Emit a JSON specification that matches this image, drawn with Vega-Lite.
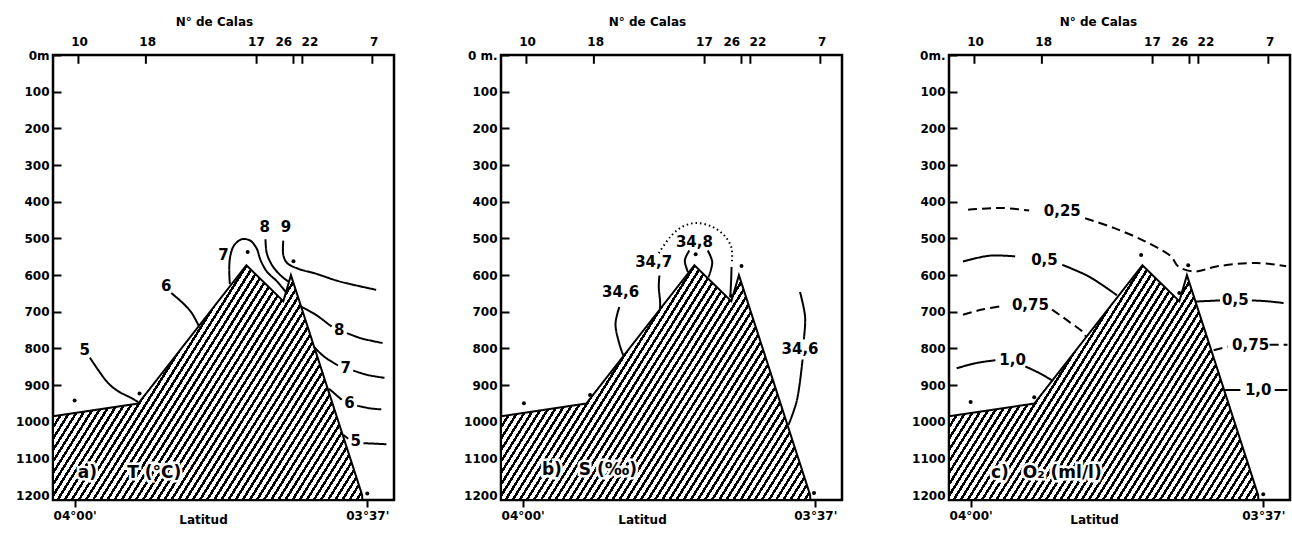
{
  "$schema": "https://vega.github.io/schema/vega-lite/v6.json",
  "padding": {"left": 14, "top": 13, "right": 0, "bottom": 0},
  "background": "white",
  "spacing": 66,
  "datasets": {
    "bathy": [
      {"lat": 241.7, "depth": 985},
      {"lat": 235.0, "depth": 950},
      {"lat": 226.5, "depth": 573},
      {"lat": 223.6, "depth": 671},
      {"lat": 223.0, "depth": 600},
      {"lat": 217.4, "depth": 1200}
    ],
    "stations": [
      {"lat": 239.7, "cala": "10"},
      {"lat": 234.4, "cala": "18"},
      {"lat": 225.7, "cala": "17"},
      {"lat": 222.8, "cala": "26"},
      {"lat": 222.1, "cala": "22"},
      {"lat": 216.6, "cala": "7"}
    ],
    "casts": [
      {"panel": "T", "lat": 240.0, "depth": 942},
      {"panel": "T", "lat": 234.9, "depth": 923},
      {"panel": "T", "lat": 226.4, "depth": 537},
      {"panel": "T", "lat": 222.8, "depth": 562},
      {"panel": "T", "lat": 217.0, "depth": 1195},
      {"panel": "S", "lat": 239.9, "depth": 949},
      {"panel": "S", "lat": 234.7, "depth": 927},
      {"panel": "S", "lat": 226.4, "depth": 543},
      {"panel": "S", "lat": 222.8, "depth": 575},
      {"panel": "S", "lat": 223.6, "depth": 657},
      {"panel": "S", "lat": 217.1, "depth": 1194},
      {"panel": "O", "lat": 240.0, "depth": 946},
      {"panel": "O", "lat": 235.0, "depth": 933},
      {"panel": "O", "lat": 226.6, "depth": 545},
      {"panel": "O", "lat": 222.9, "depth": 573},
      {"panel": "O", "lat": 223.6, "depth": 649},
      {"panel": "O", "lat": 217.0, "depth": 1197}
    ],
    "lines": [
      {"panel": "T", "seg": "T5a", "ord": 1, "lat": 238.8, "depth": 825, "style": "solid"},
      {"panel": "T", "seg": "T5a", "ord": 2, "lat": 237.4, "depth": 893, "style": "solid"},
      {"panel": "T", "seg": "T5a", "ord": 3, "lat": 236.6, "depth": 916, "style": "solid"},
      {"panel": "T", "seg": "T5a", "ord": 4, "lat": 235.6, "depth": 934, "style": "solid"},
      {"panel": "T", "seg": "T5a", "ord": 5, "lat": 235.0, "depth": 946, "style": "solid"},
      {"panel": "T", "seg": "T6a", "ord": 1, "lat": 232.4, "depth": 649, "style": "solid"},
      {"panel": "T", "seg": "T6a", "ord": 2, "lat": 231.5, "depth": 676, "style": "solid"},
      {"panel": "T", "seg": "T6a", "ord": 3, "lat": 230.8, "depth": 703, "style": "solid"},
      {"panel": "T", "seg": "T6a", "ord": 4, "lat": 230.25, "depth": 738, "style": "solid"},
      {"panel": "T", "seg": "T7a", "ord": 1, "lat": 227.8, "depth": 625, "style": "solid"},
      {"panel": "T", "seg": "T7a", "ord": 2, "lat": 227.85, "depth": 580, "style": "solid"},
      {"panel": "T", "seg": "T7a", "ord": 3, "lat": 227.75, "depth": 545, "style": "solid"},
      {"panel": "T", "seg": "T7a", "ord": 4, "lat": 227.45, "depth": 518, "style": "solid"},
      {"panel": "T", "seg": "T7a", "ord": 5, "lat": 226.85, "depth": 502, "style": "solid"},
      {"panel": "T", "seg": "T7a", "ord": 6, "lat": 226.2, "depth": 506, "style": "solid"},
      {"panel": "T", "seg": "T7a", "ord": 7, "lat": 225.7, "depth": 527, "style": "solid"},
      {"panel": "T", "seg": "T7a", "ord": 8, "lat": 225.4, "depth": 558, "style": "solid"},
      {"panel": "T", "seg": "T7a", "ord": 9, "lat": 224.9, "depth": 590, "style": "solid"},
      {"panel": "T", "seg": "T7a", "ord": 10, "lat": 224.1, "depth": 617, "style": "solid"},
      {"panel": "T", "seg": "T7a", "ord": 11, "lat": 223.4, "depth": 646, "style": "solid"},
      {"panel": "T", "seg": "T8a", "ord": 1, "lat": 225.0, "depth": 502, "style": "solid"},
      {"panel": "T", "seg": "T8a", "ord": 2, "lat": 224.9, "depth": 540, "style": "solid"},
      {"panel": "T", "seg": "T8a", "ord": 3, "lat": 224.5, "depth": 572, "style": "solid"},
      {"panel": "T", "seg": "T8a", "ord": 4, "lat": 223.95, "depth": 596, "style": "solid"},
      {"panel": "T", "seg": "T8a", "ord": 5, "lat": 223.5, "depth": 610, "style": "solid"},
      {"panel": "T", "seg": "T8a", "ord": 6, "lat": 223.15, "depth": 618, "style": "solid"},
      {"panel": "T", "seg": "T9a", "ord": 1, "lat": 223.6, "depth": 506, "style": "solid"},
      {"panel": "T", "seg": "T9a", "ord": 2, "lat": 223.6, "depth": 545, "style": "solid"},
      {"panel": "T", "seg": "T9a", "ord": 3, "lat": 223.3, "depth": 567, "style": "solid"},
      {"panel": "T", "seg": "T9a", "ord": 4, "lat": 222.4, "depth": 583, "style": "solid"},
      {"panel": "T", "seg": "T9a", "ord": 5, "lat": 221.05, "depth": 596, "style": "solid"},
      {"panel": "T", "seg": "T9a", "ord": 6, "lat": 219.2, "depth": 617, "style": "solid"},
      {"panel": "T", "seg": "T9a", "ord": 7, "lat": 216.3, "depth": 640, "style": "solid"},
      {"panel": "T", "seg": "T8b", "ord": 1, "lat": 222.2, "depth": 686, "style": "solid"},
      {"panel": "T", "seg": "T8b", "ord": 2, "lat": 221.05, "depth": 708, "style": "solid"},
      {"panel": "T", "seg": "T8b", "ord": 3, "lat": 220.0, "depth": 735, "style": "solid"},
      {"panel": "T", "seg": "T8b", "ord": 4, "lat": 219.8, "depth": 740, "style": "solid"},
      {"panel": "T", "seg": "T8c", "ord": 1, "lat": 218.6, "depth": 758, "style": "solid"},
      {"panel": "T", "seg": "T8c", "ord": 2, "lat": 217.5, "depth": 772, "style": "solid"},
      {"panel": "T", "seg": "T8c", "ord": 3, "lat": 215.8, "depth": 785, "style": "solid"},
      {"panel": "T", "seg": "T7b", "ord": 1, "lat": 221.2, "depth": 795, "style": "solid"},
      {"panel": "T", "seg": "T7b", "ord": 2, "lat": 220.4, "depth": 822, "style": "solid"},
      {"panel": "T", "seg": "T7b", "ord": 3, "lat": 219.3, "depth": 846, "style": "solid"},
      {"panel": "T", "seg": "T7c", "ord": 1, "lat": 218.1, "depth": 860, "style": "solid"},
      {"panel": "T", "seg": "T7c", "ord": 2, "lat": 217.0, "depth": 872, "style": "solid"},
      {"panel": "T", "seg": "T7c", "ord": 3, "lat": 215.65, "depth": 880, "style": "solid"},
      {"panel": "T", "seg": "T6b", "ord": 1, "lat": 220.0, "depth": 910, "style": "solid"},
      {"panel": "T", "seg": "T6b", "ord": 2, "lat": 219.0, "depth": 940, "style": "solid"},
      {"panel": "T", "seg": "T6c", "ord": 1, "lat": 217.8, "depth": 956, "style": "solid"},
      {"panel": "T", "seg": "T6c", "ord": 2, "lat": 216.8, "depth": 963, "style": "solid"},
      {"panel": "T", "seg": "T6c", "ord": 3, "lat": 215.9, "depth": 966, "style": "solid"},
      {"panel": "T", "seg": "T5b", "ord": 1, "lat": 218.9, "depth": 1035, "style": "solid"},
      {"panel": "T", "seg": "T5b", "ord": 2, "lat": 218.5, "depth": 1046, "style": "solid"},
      {"panel": "T", "seg": "T5c", "ord": 1, "lat": 217.3, "depth": 1058, "style": "solid"},
      {"panel": "T", "seg": "T5c", "ord": 2, "lat": 215.5, "depth": 1061, "style": "solid"},

      {"panel": "S", "seg": "S46a", "ord": 1, "lat": 232.4, "depth": 687, "style": "solid"},
      {"panel": "S", "seg": "S46a", "ord": 2, "lat": 232.7, "depth": 733, "style": "solid"},
      {"panel": "S", "seg": "S46a", "ord": 3, "lat": 232.4, "depth": 787, "style": "solid"},
      {"panel": "S", "seg": "S46a", "ord": 4, "lat": 232.05, "depth": 822, "style": "solid"},
      {"panel": "S", "seg": "S47a", "ord": 1, "lat": 229.25, "depth": 601, "style": "solid"},
      {"panel": "S", "seg": "S47a", "ord": 2, "lat": 229.3, "depth": 633, "style": "solid"},
      {"panel": "S", "seg": "S47a", "ord": 3, "lat": 229.2, "depth": 670, "style": "solid"},
      {"panel": "S", "seg": "S47a", "ord": 4, "lat": 229.2, "depth": 692, "style": "solid"},
      {"panel": "S", "seg": "S48a", "ord": 1, "lat": 226.9, "depth": 533, "style": "solid"},
      {"panel": "S", "seg": "S48a", "ord": 2, "lat": 227.25, "depth": 560, "style": "solid"},
      {"panel": "S", "seg": "S48a", "ord": 3, "lat": 227.0, "depth": 592, "style": "solid"},
      {"panel": "S", "seg": "S48b", "ord": 1, "lat": 225.45, "depth": 533, "style": "solid"},
      {"panel": "S", "seg": "S48b", "ord": 2, "lat": 225.1, "depth": 565, "style": "solid"},
      {"panel": "S", "seg": "S48b", "ord": 3, "lat": 225.4, "depth": 606, "style": "solid"},
      {"panel": "S", "seg": "S48c", "ord": 1, "lat": 229.3, "depth": 540, "style": "dotted"},
      {"panel": "S", "seg": "S48c", "ord": 2, "lat": 228.4, "depth": 496, "style": "dotted"},
      {"panel": "S", "seg": "S48c", "ord": 3, "lat": 227.5, "depth": 469, "style": "dotted"},
      {"panel": "S", "seg": "S48c", "ord": 4, "lat": 226.35, "depth": 458, "style": "dotted"},
      {"panel": "S", "seg": "S48c", "ord": 5, "lat": 225.05, "depth": 469, "style": "dotted"},
      {"panel": "S", "seg": "S48c", "ord": 6, "lat": 224.15, "depth": 492, "style": "dotted"},
      {"panel": "S", "seg": "S48c", "ord": 7, "lat": 223.6, "depth": 524, "style": "dotted"},
      {"panel": "S", "seg": "S48c", "ord": 8, "lat": 223.55, "depth": 565, "style": "dotted"},
      {"panel": "S", "seg": "S47b", "ord": 1, "lat": 223.58, "depth": 578, "style": "solid"},
      {"panel": "S", "seg": "S47b", "ord": 2, "lat": 223.62, "depth": 620, "style": "solid"},
      {"panel": "S", "seg": "S47b", "ord": 3, "lat": 223.68, "depth": 660, "style": "solid"},
      {"panel": "S", "seg": "S46b", "ord": 1, "lat": 218.2, "depth": 646, "style": "solid"},
      {"panel": "S", "seg": "S46b", "ord": 2, "lat": 217.8, "depth": 714, "style": "solid"},
      {"panel": "S", "seg": "S46b", "ord": 3, "lat": 217.9, "depth": 775, "style": "solid"},
      {"panel": "S", "seg": "S46c", "ord": 1, "lat": 218.0, "depth": 830, "style": "solid"},
      {"panel": "S", "seg": "S46c", "ord": 2, "lat": 218.45, "depth": 942, "style": "solid"},
      {"panel": "S", "seg": "S46c", "ord": 3, "lat": 219.1, "depth": 1008, "style": "solid"},

      {"panel": "O", "seg": "O25a", "ord": 1, "lat": 240.2, "depth": 422, "style": "dashed"},
      {"panel": "O", "seg": "O25a", "ord": 2, "lat": 237.5, "depth": 417, "style": "dashed"},
      {"panel": "O", "seg": "O25a", "ord": 3, "lat": 235.4, "depth": 424, "style": "dashed"},
      {"panel": "O", "seg": "O25b", "ord": 1, "lat": 231.0, "depth": 445, "style": "dashed"},
      {"panel": "O", "seg": "O25b", "ord": 2, "lat": 228.7, "depth": 472, "style": "dashed"},
      {"panel": "O", "seg": "O25b", "ord": 3, "lat": 226.3, "depth": 508, "style": "dashed"},
      {"panel": "O", "seg": "O25b", "ord": 4, "lat": 224.25, "depth": 549, "style": "dashed"},
      {"panel": "O", "seg": "O25b", "ord": 5, "lat": 223.7, "depth": 576, "style": "dashed"},
      {"panel": "O", "seg": "O25b", "ord": 6, "lat": 222.4, "depth": 590, "style": "dashed"},
      {"panel": "O", "seg": "O25b", "ord": 7, "lat": 220.6, "depth": 576, "style": "dashed"},
      {"panel": "O", "seg": "O25b", "ord": 8, "lat": 217.5, "depth": 567, "style": "dashed"},
      {"panel": "O", "seg": "O25b", "ord": 9, "lat": 215.2, "depth": 576, "style": "dashed"},
      {"panel": "O", "seg": "O5a", "ord": 1, "lat": 240.6, "depth": 563, "style": "solid"},
      {"panel": "O", "seg": "O5a", "ord": 2, "lat": 238.5, "depth": 547, "style": "solid"},
      {"panel": "O", "seg": "O5a", "ord": 3, "lat": 236.5, "depth": 549, "style": "solid"},
      {"panel": "O", "seg": "O5b", "ord": 1, "lat": 232.8, "depth": 572, "style": "solid"},
      {"panel": "O", "seg": "O5b", "ord": 2, "lat": 230.7, "depth": 604, "style": "solid"},
      {"panel": "O", "seg": "O5b", "ord": 3, "lat": 228.5, "depth": 655, "style": "solid"},
      {"panel": "O", "seg": "O5c", "ord": 1, "lat": 222.3, "depth": 672, "style": "solid"},
      {"panel": "O", "seg": "O5c", "ord": 2, "lat": 220.4, "depth": 669, "style": "solid"},
      {"panel": "O", "seg": "O5d", "ord": 1, "lat": 217.9, "depth": 669, "style": "solid"},
      {"panel": "O", "seg": "O5d", "ord": 2, "lat": 216.8, "depth": 671, "style": "solid"},
      {"panel": "O", "seg": "O5d", "ord": 3, "lat": 215.4, "depth": 676, "style": "solid"},
      {"panel": "O", "seg": "O75a", "ord": 1, "lat": 240.6, "depth": 708, "style": "dashed"},
      {"panel": "O", "seg": "O75a", "ord": 2, "lat": 239.1, "depth": 694, "style": "dashed"},
      {"panel": "O", "seg": "O75a", "ord": 3, "lat": 237.5, "depth": 684, "style": "dashed"},
      {"panel": "O", "seg": "O75b", "ord": 1, "lat": 233.6, "depth": 694, "style": "dashed"},
      {"panel": "O", "seg": "O75b", "ord": 2, "lat": 232.3, "depth": 726, "style": "dashed"},
      {"panel": "O", "seg": "O75b", "ord": 3, "lat": 231.1, "depth": 758, "style": "dashed"},
      {"panel": "O", "seg": "O75b", "ord": 4, "lat": 230.95, "depth": 768, "style": "dashed"},
      {"panel": "O", "seg": "O75c", "ord": 1, "lat": 220.9, "depth": 805, "style": "dashed"},
      {"panel": "O", "seg": "O75c", "ord": 2, "lat": 219.8, "depth": 795, "style": "dashed"},
      {"panel": "O", "seg": "O75d", "ord": 1, "lat": 216.5, "depth": 790, "style": "dashed"},
      {"panel": "O", "seg": "O75d", "ord": 2, "lat": 215.1, "depth": 790, "style": "dashed"},
      {"panel": "O", "seg": "O10a", "ord": 1, "lat": 241.1, "depth": 854, "style": "solid"},
      {"panel": "O", "seg": "O10a", "ord": 2, "lat": 239.6, "depth": 840, "style": "solid"},
      {"panel": "O", "seg": "O10a", "ord": 3, "lat": 238.05, "depth": 832, "style": "solid"},
      {"panel": "O", "seg": "O10b", "ord": 1, "lat": 235.7, "depth": 849, "style": "solid"},
      {"panel": "O", "seg": "O10b", "ord": 2, "lat": 234.6, "depth": 867, "style": "solid"},
      {"panel": "O", "seg": "O10b", "ord": 3, "lat": 233.6, "depth": 887, "style": "solid"},
      {"panel": "O", "seg": "O10c", "ord": 1, "lat": 220.0, "depth": 913, "style": "solid"},
      {"panel": "O", "seg": "O10c", "ord": 2, "lat": 218.8, "depth": 913, "style": "solid"},
      {"panel": "O", "seg": "O10d", "ord": 1, "lat": 216.1, "depth": 913, "style": "solid"},
      {"panel": "O", "seg": "O10d", "ord": 2, "lat": 215.1, "depth": 913, "style": "solid"}
    ],
    "labels": [
      {"panel": "T", "lat": 239.2, "depth": 804, "txt": "5"},
      {"panel": "T", "lat": 232.8, "depth": 630, "txt": "6"},
      {"panel": "T", "lat": 228.3, "depth": 545, "txt": "7"},
      {"panel": "T", "lat": 225.06, "depth": 470, "txt": "8"},
      {"panel": "T", "lat": 223.4, "depth": 470, "txt": "9"},
      {"panel": "T", "lat": 219.2, "depth": 749, "txt": "8"},
      {"panel": "T", "lat": 218.7, "depth": 853, "txt": "7"},
      {"panel": "T", "lat": 218.4, "depth": 948, "txt": "6"},
      {"panel": "T", "lat": 217.9, "depth": 1052, "txt": "5"},
      {"panel": "S", "lat": 232.3, "depth": 646, "txt": "34,6"},
      {"panel": "S", "lat": 229.7, "depth": 565, "txt": "34,7"},
      {"panel": "S", "lat": 226.5, "depth": 510, "txt": "34,8"},
      {"panel": "S", "lat": 218.2, "depth": 801, "txt": "34,6"},
      {"panel": "O", "lat": 232.8, "depth": 426, "txt": "0,25"},
      {"panel": "O", "lat": 234.2, "depth": 560, "txt": "0,5"},
      {"panel": "O", "lat": 235.3, "depth": 681, "txt": "0,75"},
      {"panel": "O", "lat": 236.7, "depth": 831, "txt": "1,0"},
      {"panel": "O", "lat": 219.2, "depth": 669, "txt": "0,5"},
      {"panel": "O", "lat": 218.0, "depth": 790, "txt": "0,75"},
      {"panel": "O", "lat": 217.4, "depth": 913, "txt": "1,0"}
    ],
    "tags": [
      {"panel": "T", "lat": 239.0, "depth": 1140, "txt": "a)"},
      {"panel": "T", "lat": 233.75, "depth": 1140, "txt": "T (°C)"},
      {"panel": "S", "lat": 237.7, "depth": 1132, "txt": "b)"},
      {"panel": "S", "lat": 233.3, "depth": 1132, "txt": "S (‰)"},
      {"panel": "O", "lat": 237.7, "depth": 1140, "txt": "c)"},
      {"panel": "O", "lat": 232.8, "depth": 1140, "txt": "O₂ (ml/l)"}
    ]
  },
  "hconcat": [
    {
      "width": 341,
      "height": 445,
      "resolve": {"axis": {"x": "independent", "y": "independent"}},
      "layer": [
        {
          "data": {"name": "bathy"},
          "mark": {"type": "area", "stroke": "#000", "strokeWidth": 2, "opacity": 1, "fillOpacity": 1},
          "encoding": {
            "x": {"field": "lat", "type": "quantitative",
              "scale": {"domain": [214.9, 241.7], "reverse": true, "nice": false, "zero": false},
              "axis": {"orient": "bottom", "values": [240, 217], "labelExpr": "datum.value == 240 ? \"04°00'\" : \"03°37'\"", "title": "Latitud", "titleX": 150, "titleY": 19, "titleBaseline": "middle", "titleAlign": "center", "tickSize": 7, "labelPadding": 3, "labelFlush": false}},
            "y": {"field": "depth", "type": "quantitative",
              "scale": {"domain": [0, 1213], "reverse": true, "nice": false, "zero": false},
              "axis": {"orient": "left", "values": [0, 100, 200, 300, 400, 500, 600, 700, 800, 900, 1000, 1100, 1200], "format": "d", "labelExpr": "datum.value == 0 ? '0m' : datum.label", "title": null, "offset": -8, "tickSize": 8, "labelPadding": 4}},
            "y2": {"datum": 1213}
          }
        },
        {
          "data": {"name": "lines"},
          "transform": [{"filter": "datum.panel == 'T'"}],
          "mark": {"type": "line", "interpolate": "catmull-rom", "stroke": "#000", "strokeWidth": 2},
          "encoding": {
            "x": {"field": "lat", "type": "quantitative", "axis": null},
            "y": {"field": "depth", "type": "quantitative", "axis": null},
            "detail": {"field": "seg"},
            "order": {"field": "ord"},
            "strokeDash": {"field": "style", "scale": {"domain": ["solid", "dashed", "dotted"], "range": [[1, 0], [9, 5], [1.5, 3]]}, "legend": null}
          }
        },
        {
          "data": {"name": "casts"},
          "transform": [{"filter": "datum.panel == 'T'"}],
          "mark": {"type": "circle", "size": 16, "color": "#000", "opacity": 1},
          "encoding": {
            "x": {"field": "lat", "type": "quantitative", "axis": null},
            "y": {"field": "depth", "type": "quantitative", "axis": null}
          }
        },
        {
          "data": {"name": "stations"},
          "mark": {"type": "rule", "stroke": "#000", "strokeWidth": 2},
          "encoding": {
            "x": {"field": "lat", "type": "quantitative",
              "axis": {"orient": "top", "values": [239.65, 234.3, 225.75, 223.6, 221.55, 216.5], "labelExpr": "datum.value == 239.65 ? '10' : datum.value == 234.3 ? '18' : datum.value == 225.75 ? '17' : datum.value == 223.6 ? '26' : datum.value == 221.55 ? '22' : '7'", "ticks": false, "labelPadding": 7, "labelOverlap": false, "labelFlush": false, "title": "N° de Calas", "titleX": 161, "titleY": -34, "titleBaseline": "middle", "titleAlign": "center"}},
            "y": {"datum": 0, "type": "quantitative", "axis": null},
            "y2": {"datum": 24}
          }
        },
        {
          "data": {"name": "labels"},
          "transform": [{"filter": "datum.panel == 'T'"}],
          "mark": {"type": "text", "fontSize": 15},
          "encoding": {
            "x": {"field": "lat", "type": "quantitative", "axis": null},
            "y": {"field": "depth", "type": "quantitative", "axis": null},
            "text": {"field": "txt"}
          }
        },
        {
          "data": {"name": "tags"},
          "transform": [{"filter": "datum.panel == 'T'"}],
          "mark": {"type": "text", "fontSize": 17, "stroke": "#fff", "strokeWidth": 5, "fill": "#fff"},
          "encoding": {
            "x": {"field": "lat", "type": "quantitative", "axis": null},
            "y": {"field": "depth", "type": "quantitative", "axis": null},
            "text": {"field": "txt"}
          }
        },
        {
          "data": {"name": "tags"},
          "transform": [{"filter": "datum.panel == 'T'"}],
          "mark": {"type": "text", "fontSize": 17},
          "encoding": {
            "x": {"field": "lat", "type": "quantitative", "axis": null},
            "y": {"field": "depth", "type": "quantitative", "axis": null},
            "text": {"field": "txt"}
          }
        }
      ]
    },
    {
      "width": 341,
      "height": 445,
      "resolve": {"axis": {"x": "independent", "y": "independent"}},
      "layer": [
        {
          "data": {"name": "bathy"},
          "mark": {"type": "area", "stroke": "#000", "strokeWidth": 2, "opacity": 1, "fillOpacity": 1},
          "encoding": {
            "x": {"field": "lat", "type": "quantitative",
              "scale": {"domain": [214.9, 241.7], "reverse": true, "nice": false, "zero": false},
              "axis": {"orient": "bottom", "values": [240, 217], "labelExpr": "datum.value == 240 ? \"04°00'\" : \"03°37'\"", "title": "Latitud", "titleX": 141, "titleY": 19, "titleBaseline": "middle", "titleAlign": "center", "tickSize": 7, "labelPadding": 3, "labelFlush": false}},
            "y": {"field": "depth", "type": "quantitative",
              "scale": {"domain": [0, 1213], "reverse": true, "nice": false, "zero": false},
              "axis": {"orient": "left", "values": [0, 100, 200, 300, 400, 500, 600, 700, 800, 900, 1000, 1100, 1200], "format": "d", "labelExpr": "datum.value == 0 ? '0 m.' : datum.label", "title": null, "offset": -8, "tickSize": 8, "labelPadding": 4}},
            "y2": {"datum": 1213}
          }
        },
        {
          "data": {"name": "lines"},
          "transform": [{"filter": "datum.panel == 'S'"}],
          "mark": {"type": "line", "interpolate": "catmull-rom", "stroke": "#000", "strokeWidth": 2},
          "encoding": {
            "x": {"field": "lat", "type": "quantitative", "axis": null},
            "y": {"field": "depth", "type": "quantitative", "axis": null},
            "detail": {"field": "seg"},
            "order": {"field": "ord"},
            "strokeDash": {"field": "style", "scale": {"domain": ["solid", "dashed", "dotted"], "range": [[1, 0], [9, 5], [1.5, 3]]}, "legend": null}
          }
        },
        {
          "data": {"name": "casts"},
          "transform": [{"filter": "datum.panel == 'S'"}],
          "mark": {"type": "circle", "size": 16, "color": "#000", "opacity": 1},
          "encoding": {
            "x": {"field": "lat", "type": "quantitative", "axis": null},
            "y": {"field": "depth", "type": "quantitative", "axis": null}
          }
        },
        {
          "data": {"name": "stations"},
          "mark": {"type": "rule", "stroke": "#000", "strokeWidth": 2},
          "encoding": {
            "x": {"field": "lat", "type": "quantitative",
              "axis": {"orient": "top", "values": [239.65, 234.3, 225.75, 223.6, 221.55, 216.5], "labelExpr": "datum.value == 239.65 ? '10' : datum.value == 234.3 ? '18' : datum.value == 225.75 ? '17' : datum.value == 223.6 ? '26' : datum.value == 221.55 ? '22' : '7'", "ticks": false, "labelPadding": 7, "labelOverlap": false, "labelFlush": false, "title": "N° de Calas", "titleX": 146, "titleY": -34, "titleBaseline": "middle", "titleAlign": "center"}},
            "y": {"datum": 0, "type": "quantitative", "axis": null},
            "y2": {"datum": 24}
          }
        },
        {
          "data": {"name": "labels"},
          "transform": [{"filter": "datum.panel == 'S'"}],
          "mark": {"type": "text", "fontSize": 15},
          "encoding": {
            "x": {"field": "lat", "type": "quantitative", "axis": null},
            "y": {"field": "depth", "type": "quantitative", "axis": null},
            "text": {"field": "txt"}
          }
        },
        {
          "data": {"name": "tags"},
          "transform": [{"filter": "datum.panel == 'S'"}],
          "mark": {"type": "text", "fontSize": 17, "stroke": "#fff", "strokeWidth": 5, "fill": "#fff"},
          "encoding": {
            "x": {"field": "lat", "type": "quantitative", "axis": null},
            "y": {"field": "depth", "type": "quantitative", "axis": null},
            "text": {"field": "txt"}
          }
        },
        {
          "data": {"name": "tags"},
          "transform": [{"filter": "datum.panel == 'S'"}],
          "mark": {"type": "text", "fontSize": 17},
          "encoding": {
            "x": {"field": "lat", "type": "quantitative", "axis": null},
            "y": {"field": "depth", "type": "quantitative", "axis": null},
            "text": {"field": "txt"}
          }
        }
      ]
    },
    {
      "width": 341,
      "height": 445,
      "resolve": {"axis": {"x": "independent", "y": "independent"}},
      "layer": [
        {
          "data": {"name": "bathy"},
          "mark": {"type": "area", "stroke": "#000", "strokeWidth": 2, "opacity": 1, "fillOpacity": 1},
          "encoding": {
            "x": {"field": "lat", "type": "quantitative",
              "scale": {"domain": [214.9, 241.7], "reverse": true, "nice": false, "zero": false},
              "axis": {"orient": "bottom", "values": [240, 217], "labelExpr": "datum.value == 240 ? \"04°00'\" : \"03°37'\"", "title": "Latitud", "titleX": 145, "titleY": 19, "titleBaseline": "middle", "titleAlign": "center", "tickSize": 7, "labelPadding": 3, "labelFlush": false}},
            "y": {"field": "depth", "type": "quantitative",
              "scale": {"domain": [0, 1213], "reverse": true, "nice": false, "zero": false},
              "axis": {"orient": "left", "values": [0, 100, 200, 300, 400, 500, 600, 700, 800, 900, 1000, 1100, 1200], "format": "d", "labelExpr": "datum.value == 0 ? '0m.' : datum.label", "title": null, "offset": -8, "tickSize": 8, "labelPadding": 4}},
            "y2": {"datum": 1213}
          }
        },
        {
          "data": {"name": "lines"},
          "transform": [{"filter": "datum.panel == 'O'"}],
          "mark": {"type": "line", "interpolate": "catmull-rom", "stroke": "#000", "strokeWidth": 2},
          "encoding": {
            "x": {"field": "lat", "type": "quantitative", "axis": null},
            "y": {"field": "depth", "type": "quantitative", "axis": null},
            "detail": {"field": "seg"},
            "order": {"field": "ord"},
            "strokeDash": {"field": "style", "scale": {"domain": ["solid", "dashed", "dotted"], "range": [[1, 0], [9, 5], [1.5, 3]]}, "legend": null}
          }
        },
        {
          "data": {"name": "casts"},
          "transform": [{"filter": "datum.panel == 'O'"}],
          "mark": {"type": "circle", "size": 16, "color": "#000", "opacity": 1},
          "encoding": {
            "x": {"field": "lat", "type": "quantitative", "axis": null},
            "y": {"field": "depth", "type": "quantitative", "axis": null}
          }
        },
        {
          "data": {"name": "stations"},
          "mark": {"type": "rule", "stroke": "#000", "strokeWidth": 2},
          "encoding": {
            "x": {"field": "lat", "type": "quantitative",
              "axis": {"orient": "top", "values": [239.65, 234.3, 225.75, 223.6, 221.55, 216.5], "labelExpr": "datum.value == 239.65 ? '10' : datum.value == 234.3 ? '18' : datum.value == 225.75 ? '17' : datum.value == 223.6 ? '26' : datum.value == 221.55 ? '22' : '7'", "ticks": false, "labelPadding": 7, "labelOverlap": false, "labelFlush": false, "title": "N° de Calas", "titleX": 149, "titleY": -34, "titleBaseline": "middle", "titleAlign": "center"}},
            "y": {"datum": 0, "type": "quantitative", "axis": null},
            "y2": {"datum": 24}
          }
        },
        {
          "data": {"name": "labels"},
          "transform": [{"filter": "datum.panel == 'O'"}],
          "mark": {"type": "text", "fontSize": 15},
          "encoding": {
            "x": {"field": "lat", "type": "quantitative", "axis": null},
            "y": {"field": "depth", "type": "quantitative", "axis": null},
            "text": {"field": "txt"}
          }
        },
        {
          "data": {"name": "tags"},
          "transform": [{"filter": "datum.panel == 'O'"}],
          "mark": {"type": "text", "fontSize": 17, "stroke": "#fff", "strokeWidth": 5, "fill": "#fff"},
          "encoding": {
            "x": {"field": "lat", "type": "quantitative", "axis": null},
            "y": {"field": "depth", "type": "quantitative", "axis": null},
            "text": {"field": "txt"}
          }
        },
        {
          "data": {"name": "tags"},
          "transform": [{"filter": "datum.panel == 'O'"}],
          "mark": {"type": "text", "fontSize": 17},
          "encoding": {
            "x": {"field": "lat", "type": "quantitative", "axis": null},
            "y": {"field": "depth", "type": "quantitative", "axis": null},
            "text": {"field": "txt"}
          }
        }
      ]
    }
  ],
  "config": {
    "view": {"stroke": "#000", "strokeWidth": 2.5},
    "axis": {
      "labelFont": "DejaVu Sans", "labelFontWeight": "bold", "labelFontSize": 12, "labelColor": "#000",
      "titleFont": "DejaVu Sans", "titleFontWeight": "bold", "titleFontSize": 12, "titleColor": "#000",
      "tickColor": "#000", "tickWidth": 2, "domain": false, "grid": false
    },
    "text": {"font": "DejaVu Sans", "fontWeight": "bold", "color": "#000"},
    "area": {
      "fill": {
        "gradient": "linear", "x1": 0, "y1": 0, "x2": 1.2036, "y2": 0.5705,
        "stops": [
          {"offset": 0, "color": "#000"}, {"offset": 0.0065, "color": "#000"}, {"offset": 0.0065, "color": "#fff"}, {"offset": 0.015625, "color": "#fff"},
          {"offset": 0.015625, "color": "#000"}, {"offset": 0.022125, "color": "#000"}, {"offset": 0.022125, "color": "#fff"}, {"offset": 0.03125, "color": "#fff"},
          {"offset": 0.03125, "color": "#000"}, {"offset": 0.03775, "color": "#000"}, {"offset": 0.03775, "color": "#fff"}, {"offset": 0.046875, "color": "#fff"},
          {"offset": 0.046875, "color": "#000"}, {"offset": 0.053375, "color": "#000"}, {"offset": 0.053375, "color": "#fff"}, {"offset": 0.0625, "color": "#fff"},
          {"offset": 0.0625, "color": "#000"}, {"offset": 0.069, "color": "#000"}, {"offset": 0.069, "color": "#fff"}, {"offset": 0.078125, "color": "#fff"},
          {"offset": 0.078125, "color": "#000"}, {"offset": 0.084625, "color": "#000"}, {"offset": 0.084625, "color": "#fff"}, {"offset": 0.09375, "color": "#fff"},
          {"offset": 0.09375, "color": "#000"}, {"offset": 0.10025, "color": "#000"}, {"offset": 0.10025, "color": "#fff"}, {"offset": 0.109375, "color": "#fff"},
          {"offset": 0.109375, "color": "#000"}, {"offset": 0.115875, "color": "#000"}, {"offset": 0.115875, "color": "#fff"}, {"offset": 0.125, "color": "#fff"},
          {"offset": 0.125, "color": "#000"}, {"offset": 0.1315, "color": "#000"}, {"offset": 0.1315, "color": "#fff"}, {"offset": 0.140625, "color": "#fff"},
          {"offset": 0.140625, "color": "#000"}, {"offset": 0.147125, "color": "#000"}, {"offset": 0.147125, "color": "#fff"}, {"offset": 0.15625, "color": "#fff"},
          {"offset": 0.15625, "color": "#000"}, {"offset": 0.16275, "color": "#000"}, {"offset": 0.16275, "color": "#fff"}, {"offset": 0.171875, "color": "#fff"},
          {"offset": 0.171875, "color": "#000"}, {"offset": 0.178375, "color": "#000"}, {"offset": 0.178375, "color": "#fff"}, {"offset": 0.1875, "color": "#fff"},
          {"offset": 0.1875, "color": "#000"}, {"offset": 0.194, "color": "#000"}, {"offset": 0.194, "color": "#fff"}, {"offset": 0.203125, "color": "#fff"},
          {"offset": 0.203125, "color": "#000"}, {"offset": 0.209625, "color": "#000"}, {"offset": 0.209625, "color": "#fff"}, {"offset": 0.21875, "color": "#fff"},
          {"offset": 0.21875, "color": "#000"}, {"offset": 0.22525, "color": "#000"}, {"offset": 0.22525, "color": "#fff"}, {"offset": 0.234375, "color": "#fff"},
          {"offset": 0.234375, "color": "#000"}, {"offset": 0.240875, "color": "#000"}, {"offset": 0.240875, "color": "#fff"}, {"offset": 0.25, "color": "#fff"},
          {"offset": 0.25, "color": "#000"}, {"offset": 0.2565, "color": "#000"}, {"offset": 0.2565, "color": "#fff"}, {"offset": 0.265625, "color": "#fff"},
          {"offset": 0.265625, "color": "#000"}, {"offset": 0.272125, "color": "#000"}, {"offset": 0.272125, "color": "#fff"}, {"offset": 0.28125, "color": "#fff"},
          {"offset": 0.28125, "color": "#000"}, {"offset": 0.28775, "color": "#000"}, {"offset": 0.28775, "color": "#fff"}, {"offset": 0.296875, "color": "#fff"},
          {"offset": 0.296875, "color": "#000"}, {"offset": 0.303375, "color": "#000"}, {"offset": 0.303375, "color": "#fff"}, {"offset": 0.3125, "color": "#fff"},
          {"offset": 0.3125, "color": "#000"}, {"offset": 0.319, "color": "#000"}, {"offset": 0.319, "color": "#fff"}, {"offset": 0.328125, "color": "#fff"},
          {"offset": 0.328125, "color": "#000"}, {"offset": 0.334625, "color": "#000"}, {"offset": 0.334625, "color": "#fff"}, {"offset": 0.34375, "color": "#fff"},
          {"offset": 0.34375, "color": "#000"}, {"offset": 0.35025, "color": "#000"}, {"offset": 0.35025, "color": "#fff"}, {"offset": 0.359375, "color": "#fff"},
          {"offset": 0.359375, "color": "#000"}, {"offset": 0.365875, "color": "#000"}, {"offset": 0.365875, "color": "#fff"}, {"offset": 0.375, "color": "#fff"},
          {"offset": 0.375, "color": "#000"}, {"offset": 0.3815, "color": "#000"}, {"offset": 0.3815, "color": "#fff"}, {"offset": 0.390625, "color": "#fff"},
          {"offset": 0.390625, "color": "#000"}, {"offset": 0.397125, "color": "#000"}, {"offset": 0.397125, "color": "#fff"}, {"offset": 0.40625, "color": "#fff"},
          {"offset": 0.40625, "color": "#000"}, {"offset": 0.41275, "color": "#000"}, {"offset": 0.41275, "color": "#fff"}, {"offset": 0.421875, "color": "#fff"},
          {"offset": 0.421875, "color": "#000"}, {"offset": 0.428375, "color": "#000"}, {"offset": 0.428375, "color": "#fff"}, {"offset": 0.4375, "color": "#fff"},
          {"offset": 0.4375, "color": "#000"}, {"offset": 0.444, "color": "#000"}, {"offset": 0.444, "color": "#fff"}, {"offset": 0.453125, "color": "#fff"},
          {"offset": 0.453125, "color": "#000"}, {"offset": 0.459625, "color": "#000"}, {"offset": 0.459625, "color": "#fff"}, {"offset": 0.46875, "color": "#fff"},
          {"offset": 0.46875, "color": "#000"}, {"offset": 0.47525, "color": "#000"}, {"offset": 0.47525, "color": "#fff"}, {"offset": 0.484375, "color": "#fff"},
          {"offset": 0.484375, "color": "#000"}, {"offset": 0.490875, "color": "#000"}, {"offset": 0.490875, "color": "#fff"}, {"offset": 0.5, "color": "#fff"},
          {"offset": 0.5, "color": "#000"}, {"offset": 0.5065, "color": "#000"}, {"offset": 0.5065, "color": "#fff"}, {"offset": 0.515625, "color": "#fff"},
          {"offset": 0.515625, "color": "#000"}, {"offset": 0.522125, "color": "#000"}, {"offset": 0.522125, "color": "#fff"}, {"offset": 0.53125, "color": "#fff"},
          {"offset": 0.53125, "color": "#000"}, {"offset": 0.53775, "color": "#000"}, {"offset": 0.53775, "color": "#fff"}, {"offset": 0.546875, "color": "#fff"},
          {"offset": 0.546875, "color": "#000"}, {"offset": 0.553375, "color": "#000"}, {"offset": 0.553375, "color": "#fff"}, {"offset": 0.5625, "color": "#fff"},
          {"offset": 0.5625, "color": "#000"}, {"offset": 0.569, "color": "#000"}, {"offset": 0.569, "color": "#fff"}, {"offset": 0.578125, "color": "#fff"},
          {"offset": 0.578125, "color": "#000"}, {"offset": 0.584625, "color": "#000"}, {"offset": 0.584625, "color": "#fff"}, {"offset": 0.59375, "color": "#fff"},
          {"offset": 0.59375, "color": "#000"}, {"offset": 0.60025, "color": "#000"}, {"offset": 0.60025, "color": "#fff"}, {"offset": 0.609375, "color": "#fff"},
          {"offset": 0.609375, "color": "#000"}, {"offset": 0.615875, "color": "#000"}, {"offset": 0.615875, "color": "#fff"}, {"offset": 0.625, "color": "#fff"},
          {"offset": 0.625, "color": "#000"}, {"offset": 0.6315, "color": "#000"}, {"offset": 0.6315, "color": "#fff"}, {"offset": 0.640625, "color": "#fff"},
          {"offset": 0.640625, "color": "#000"}, {"offset": 0.647125, "color": "#000"}, {"offset": 0.647125, "color": "#fff"}, {"offset": 0.65625, "color": "#fff"},
          {"offset": 0.65625, "color": "#000"}, {"offset": 0.66275, "color": "#000"}, {"offset": 0.66275, "color": "#fff"}, {"offset": 0.671875, "color": "#fff"},
          {"offset": 0.671875, "color": "#000"}, {"offset": 0.678375, "color": "#000"}, {"offset": 0.678375, "color": "#fff"}, {"offset": 0.6875, "color": "#fff"},
          {"offset": 0.6875, "color": "#000"}, {"offset": 0.694, "color": "#000"}, {"offset": 0.694, "color": "#fff"}, {"offset": 0.703125, "color": "#fff"},
          {"offset": 0.703125, "color": "#000"}, {"offset": 0.709625, "color": "#000"}, {"offset": 0.709625, "color": "#fff"}, {"offset": 0.71875, "color": "#fff"},
          {"offset": 0.71875, "color": "#000"}, {"offset": 0.72525, "color": "#000"}, {"offset": 0.72525, "color": "#fff"}, {"offset": 0.734375, "color": "#fff"},
          {"offset": 0.734375, "color": "#000"}, {"offset": 0.740875, "color": "#000"}, {"offset": 0.740875, "color": "#fff"}, {"offset": 0.75, "color": "#fff"},
          {"offset": 0.75, "color": "#000"}, {"offset": 0.7565, "color": "#000"}, {"offset": 0.7565, "color": "#fff"}, {"offset": 0.765625, "color": "#fff"},
          {"offset": 0.765625, "color": "#000"}, {"offset": 0.772125, "color": "#000"}, {"offset": 0.772125, "color": "#fff"}, {"offset": 0.78125, "color": "#fff"},
          {"offset": 0.78125, "color": "#000"}, {"offset": 0.78775, "color": "#000"}, {"offset": 0.78775, "color": "#fff"}, {"offset": 0.796875, "color": "#fff"},
          {"offset": 0.796875, "color": "#000"}, {"offset": 0.803375, "color": "#000"}, {"offset": 0.803375, "color": "#fff"}, {"offset": 0.8125, "color": "#fff"},
          {"offset": 0.8125, "color": "#000"}, {"offset": 0.819, "color": "#000"}, {"offset": 0.819, "color": "#fff"}, {"offset": 0.828125, "color": "#fff"},
          {"offset": 0.828125, "color": "#000"}, {"offset": 0.834625, "color": "#000"}, {"offset": 0.834625, "color": "#fff"}, {"offset": 0.84375, "color": "#fff"},
          {"offset": 0.84375, "color": "#000"}, {"offset": 0.85025, "color": "#000"}, {"offset": 0.85025, "color": "#fff"}, {"offset": 0.859375, "color": "#fff"},
          {"offset": 0.859375, "color": "#000"}, {"offset": 0.865875, "color": "#000"}, {"offset": 0.865875, "color": "#fff"}, {"offset": 0.875, "color": "#fff"},
          {"offset": 0.875, "color": "#000"}, {"offset": 0.8815, "color": "#000"}, {"offset": 0.8815, "color": "#fff"}, {"offset": 0.890625, "color": "#fff"},
          {"offset": 0.890625, "color": "#000"}, {"offset": 0.897125, "color": "#000"}, {"offset": 0.897125, "color": "#fff"}, {"offset": 0.90625, "color": "#fff"},
          {"offset": 0.90625, "color": "#000"}, {"offset": 0.91275, "color": "#000"}, {"offset": 0.91275, "color": "#fff"}, {"offset": 0.921875, "color": "#fff"},
          {"offset": 0.921875, "color": "#000"}, {"offset": 0.928375, "color": "#000"}, {"offset": 0.928375, "color": "#fff"}, {"offset": 0.9375, "color": "#fff"},
          {"offset": 0.9375, "color": "#000"}, {"offset": 0.944, "color": "#000"}, {"offset": 0.944, "color": "#fff"}, {"offset": 0.953125, "color": "#fff"},
          {"offset": 0.953125, "color": "#000"}, {"offset": 0.959625, "color": "#000"}, {"offset": 0.959625, "color": "#fff"}, {"offset": 0.96875, "color": "#fff"},
          {"offset": 0.96875, "color": "#000"}, {"offset": 0.97525, "color": "#000"}, {"offset": 0.97525, "color": "#fff"}, {"offset": 0.984375, "color": "#fff"},
          {"offset": 0.984375, "color": "#000"}, {"offset": 0.990875, "color": "#000"}, {"offset": 0.990875, "color": "#fff"}, {"offset": 1, "color": "#fff"}
        ]
      }
    }
  }
}
